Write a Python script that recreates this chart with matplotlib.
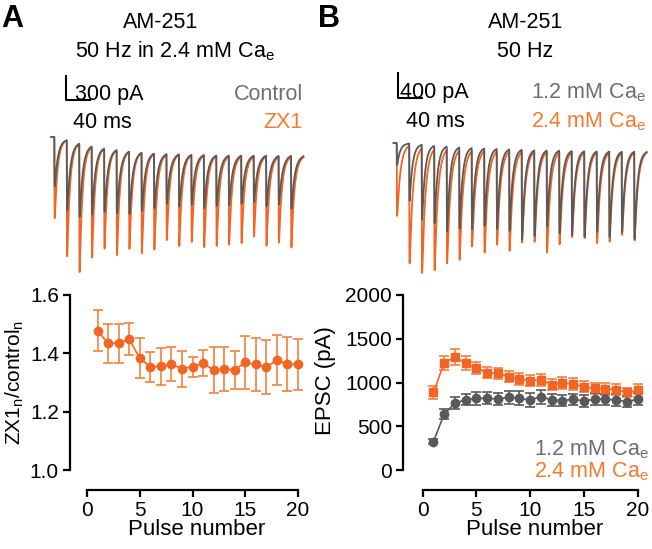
import numpy as np
import matplotlib
matplotlib.use("Agg")
import matplotlib.pyplot as plt

plt.rcParams['font.family'] = ['Liberation Sans', 'DejaVu Sans']
plt.rcParams['mathtext.fontset'] = 'custom'
plt.rcParams['mathtext.rm'] = 'Liberation Sans'

# --- data ---
pulses = np.arange(1, 21)

# A: ZX1 / control ratio per pulse
ratio = [1.478, 1.434, 1.434, 1.449, 1.383, 1.354, 1.355, 1.363, 1.347, 1.354,
         1.366, 1.343, 1.346, 1.343, 1.369, 1.362, 1.353, 1.377, 1.363, 1.362]
ratio_err = [0.070, 0.068, 0.068, 0.056, 0.068, 0.052, 0.063, 0.058, 0.062, 0.035,
             0.045, 0.078, 0.076, 0.066, 0.092, 0.090, 0.092, 0.086, 0.092, 0.088]

# B: EPSC amplitude (pA) in 1.2 and 2.4 mM Ca
epsc_lo = [324, 640, 762, 805, 819, 819, 811, 830, 819, 800,
           838, 800, 792, 808, 789, 808, 808, 800, 781, 808]
epsc_lo_err = [30, 55, 70, 65, 75, 70, 70, 70, 80, 75,
               80, 70, 65, 60, 70, 70, 65, 70, 65, 70]
epsc_hi = [886, 1227, 1288, 1223, 1166, 1114, 1105, 1067, 1040, 1021,
           1029, 977, 996, 981, 952, 933, 926, 920, 886, 909]
epsc_hi_err = [70, 80, 90, 75, 70, 60, 65, 60, 70, 60,
               65, 65, 70, 65, 65, 60, 65, 60, 55, 70]

# example trace peak amplitudes (pA) for each of the 20 stimuli
trA_ctrl = [596, 840, 880, 820, 760, 760, 748, 700, 660, 600,
            628, 600, 640, 608, 600, 580, 560, 612, 588, 640]
trA_zx1 = [976, 1392, 1540, 1328, 1200, 1260, 1168, 1208, 1152, 1028,
           1096, 1040, 1100, 1080, 1060, 1040, 960, 1072, 1028, 1088]
trB_lo = [339, 882, 1154, 1190, 1308, 1247, 1247, 1190, 1231, 1257,
          1385, 1324, 1170, 1272, 1293, 1318, 1241, 1318, 1241, 1344]
trB_hi = [1123, 1811, 1924, 1862, 1744, 1683, 1472, 1565, 1436, 1529,
          1395, 1385, 1549, 1416, 1308, 1324, 1400, 1375, 1272, 1359]

ORANGE = '#F26522'
ORANGE_E = '#F4823F'
ORANGE_T = '#F47A30'
GRAY = '#58595B'
GRAY_T = '#6D6E71'

W, H = 652, 549
fig = plt.figure(figsize=(W / 100, H / 100), dpi=100)


def add_ax(l, t, r, b):
    return fig.add_axes([l / W, 1 - b / H, (r - l) / W, (b - t) / H])


def ftext(x, y, s, **kw):
    fig.text(x / W, 1 - y / H, s, **kw)


def train(peaks, tau, frac_slow, tau_slow=150.0):
    # EPSC train at 50 Hz built from the peak amplitudes
    t = np.arange(-5, 400, 0.02)
    s = np.arange(0, 400, 0.02)
    shape = (1 - np.exp(-s / 0.2)) * ((1 - frac_slow) * np.exp(-s / tau) + frac_slow * np.exp(-s / tau_slow))
    shape = shape / shape.max()
    y = np.zeros_like(t)
    for i, a in enumerate(peaks):
        i0 = np.searchsorted(t, 20.0 * i)
        n = len(t) - i0
        y[i0:] -= a * shape[:n]
    return t, y


# ---------- A traces ----------
axA = add_ax(40, 60, 310, 280)
k = 12.46 / 20.0
axA.set_xlim((40 - 54.3) / k, (310 - 54.3) / k)
axA.set_ylim(-(280 - 137) * 12, (137 - 60) * 12)
axA.axis('off')
t, y = train(trA_zx1, 4.6, 0.027)
axA.plot(t, y, color=ORANGE, lw=1.3)
t, y = train(trA_ctrl, 5.0, 0.045)
axA.plot(t, y, color=GRAY, lw=1.3)
x0 = (66 - 54.3) / k
axA.plot([x0, x0, x0 + 40], [744, 444, 444], color='black', lw=1.5, solid_capstyle='butt')

# ---------- B traces ----------
axB = add_ax(385, 60, 650, 280)
k = 12.5 / 20.0
axB.set_xlim((385 - 396.7) / k, (650 - 396.7) / k)
axB.set_ylim(-(280 - 143) * 15.38, (143 - 60) * 15.38)
axB.axis('off')
t, y = train(trB_hi, 5.4, 0.01)
axB.plot(t, y, color=ORANGE, lw=1.3)
t, y = train(trB_lo, 4.6, 0.012)
axB.plot(t, y, color=GRAY, lw=1.3)
x0 = (398 - 396.7) / k
axB.plot([x0, x0, x0 + 40], [1092, 692, 692], color='black', lw=1.5, solid_capstyle='butt')


def style(ax, ybounds):
    for side in ['top', 'right']:
        ax.spines[side].set_visible(False)
    ax.spines['left'].set_bounds(*ybounds)
    ax.spines['bottom'].set_bounds(0, 20)
    for side in ['left', 'bottom']:
        ax.spines[side].set_linewidth(1.6)
    ax.tick_params(width=1.6, length=5, labelsize=15, pad=3)
    ax.set_xticks([0, 5, 10, 15, 20])
    ax.set_xlabel('Pulse number', fontsize=16)
    x_lo, x_hi = ax.get_xlim()
    ax.xaxis.set_label_coords((10.4 - x_lo) / (x_hi - x_lo), -0.15)


# ---------- A ratio plot ----------
ax1 = add_ax(70, 295, 303, 490)
ax1.set_xlim(-17 / 10.55, 20 + 5 / 10.55)
ax1.set_ylim(1.0 - 20 / 291.7, 1.6)
ax1.errorbar(pulses, ratio, yerr=ratio_err, color=ORANGE, ecolor=ORANGE_E, elinewidth=1.2,
             capsize=3.5, capthick=1.2, marker='o', ms=6, mec=ORANGE, mfc=ORANGE, lw=1.2, clip_on=False)
ax1.set_yticks([1.0, 1.2, 1.4, 1.6])
ax1.set_yticklabels(['1.0', '1.2', '1.4', '1.6'])
style(ax1, (1.0, 1.6))
ax1.set_ylabel('ZX1$_\\mathregular{n}$/control$_\\mathregular{n}$', fontsize=15)
ax1.yaxis.set_label_coords(-0.19, 0.55)

# ---------- B EPSC plot ----------
ax2 = add_ax(403, 295, 643, 490)
ax2.set_xlim(-19.7 / 10.75, 20 + 5.3 / 10.75)
ax2.set_ylim(-20 * 2000 / 175.0, 2000)
ax2.errorbar(pulses, epsc_hi, yerr=epsc_hi_err, color=ORANGE, ecolor=ORANGE_E, elinewidth=1.2,
             capsize=3.5, capthick=1.2, marker='s', ms=5.5, mec=ORANGE, mfc=ORANGE, lw=1.2, clip_on=False)
ax2.errorbar(pulses, epsc_lo, yerr=epsc_lo_err, color=GRAY, ecolor=GRAY, elinewidth=1.2,
             capsize=3.5, capthick=1.2, marker='o', ms=6, mec=GRAY, mfc=GRAY, lw=1.2, clip_on=False)
ax2.set_yticks([0, 500, 1000, 1500, 2000])
style(ax2, (0, 2000))
ax2.set_ylabel('EPSC (pA)', fontsize=16)
ax2.yaxis.set_label_coords(-0.28, 0.56)

# ---------- text ----------
ftext(1, 27, 'A', fontsize=22, fontweight='bold', va='baseline')
ftext(318, 27, 'B', fontsize=22, fontweight='bold', va='baseline')

ftext(161, 28, 'AM-251', fontsize=15.5, ha='center', va='baseline')
ftext(75, 57, '50 Hz in 2.4 mM Ca$_\\mathregular{e}$', fontsize=15.5, ha='left', va='baseline')
ftext(526, 28, 'AM-251', fontsize=15.5, ha='center', va='baseline')
ftext(525, 57, '50 Hz', fontsize=15.5, ha='center', va='baseline')

ftext(75, 100, '300 pA', fontsize=15.5, va='baseline')
ftext(73, 128, '40 ms', fontsize=15.5, va='baseline')
ftext(303, 100, 'Control', fontsize=15.5, ha='right', va='baseline', color=GRAY_T)
ftext(303, 128, 'ZX1', fontsize=15.5, ha='right', va='baseline', color=ORANGE_T)

ftext(400, 98, '400 pA', fontsize=15.5, va='baseline')
ftext(406, 127, '40 ms', fontsize=15.5, va='baseline')
ftext(646, 98, '1.2 mM Ca$_\\mathregular{e}$', fontsize=15.5, ha='right', va='baseline', color=GRAY_T)
ftext(646, 127, '2.4 mM Ca$_\\mathregular{e}$', fontsize=15.5, ha='right', va='baseline', color=ORANGE_T)

ftext(649, 455, '1.2 mM Ca$_\\mathregular{e}$', fontsize=15.5, ha='right', va='baseline', color=GRAY_T)
ftext(649, 477, '2.4 mM Ca$_\\mathregular{e}$', fontsize=15.5, ha='right', va='baseline', color=ORANGE_T)

fig.savefig('out.png', dpi=100)
